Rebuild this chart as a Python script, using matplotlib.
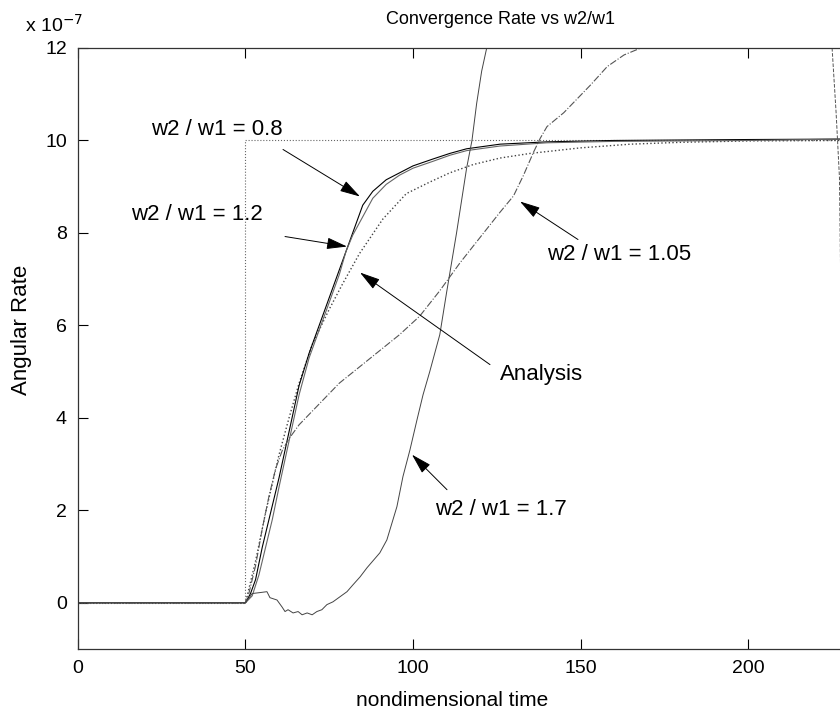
import numpy as np
import matplotlib
matplotlib.use("Agg")
import matplotlib.pyplot as plt

plt.rcParams['font.family'] = ['Liberation Sans', 'DejaVu Sans']

# ---- data (values in units of 1e-7) ----
t_step = [0, 50, 50, 250]
y_step = [0, 0, 10, 10]

t_analysis = [0, 50, 53, 56, 60, 63, 66, 70, 75, 79, 84, 91, 98, 105, 111, 118, 126, 135, 150, 165, 180, 200, 228]
y_analysis = [0, 0, 0.9, 1.95, 3.2, 4.0, 4.75, 5.6, 6.35, 6.9, 7.55, 8.3, 8.85, 9.1, 9.3, 9.48, 9.62, 9.72, 9.84, 9.92, 9.96, 9.99, 10.0]

t_08 = [0, 50, 51.5, 53, 55, 58, 60, 63, 66, 69, 72, 75, 78, 81, 83, 85, 88, 92, 96, 100, 106, 111, 116, 126, 140, 160, 200, 228]
y_08 = [0, 0, 0.2, 0.5, 1.2, 2.1, 2.7, 3.7, 4.7, 5.4, 6.0, 6.6, 7.2, 7.8, 8.2, 8.6, 8.9, 9.15, 9.3, 9.45, 9.6, 9.72, 9.82, 9.92, 9.97, 10.0, 10.02, 10.03]

t_12 = [0, 50, 52, 54, 56, 58, 60, 63, 66, 69, 72, 75, 78, 80, 82, 85, 88, 92, 96, 100, 106, 111, 116, 126, 140, 160, 200, 228]
y_12 = [0, 0, 0.15, 0.6, 1.2, 1.8, 2.5, 3.5, 4.5, 5.3, 5.9, 6.5, 7.1, 7.6, 7.95, 8.35, 8.75, 9.05, 9.25, 9.4, 9.55, 9.68, 9.78, 9.88, 9.95, 9.98, 10.0, 10.03]

t_105 = [0, 50, 51, 53, 55, 57, 59, 61, 63, 66, 70, 74, 78, 84, 90, 96, 102, 108, 114, 120, 126, 130, 133, 136, 138, 140, 145, 149, 153, 158, 163, 168, 175]
y_105 = [0, 0, 0.2, 0.8, 1.6, 2.3, 2.9, 3.3, 3.55, 3.85, 4.15, 4.45, 4.75, 5.1, 5.45, 5.8, 6.2, 6.75, 7.35, 7.9, 8.45, 8.8, 9.25, 9.75, 10.05, 10.3, 10.6, 10.9, 11.2, 11.6, 11.85, 12.0, 12.4]

t_17 = [0, 50, 52, 54.3, 56.4, 57.3, 59.4, 60.9, 61.8, 62.7, 64.2, 65.7, 66.9, 68.4, 69.9, 71.3, 72.8, 74.3,
        76.1, 78.2, 80.3, 82.1, 84.2, 86.3, 90.1, 92.2, 95.2, 97.0, 99.1, 101.2, 103, 105, 108, 110, 113, 116,
        117.6, 119, 120.5, 122, 123]
y_17 = [0, 0, 0.2, 0.22, 0.24, 0.11, 0.06, -0.09, -0.19, -0.15, -0.22, -0.19, -0.26, -0.22, -0.26, -0.19, -0.15, -0.04,
        0.02, 0.13, 0.24, 0.39, 0.56, 0.76, 1.08, 1.36, 2.08, 2.73, 3.31, 3.96, 4.5, 5.0, 5.8, 6.7, 8.0, 9.4,
        10.0, 10.8, 11.5, 12.0, 12.4]
# return of the w2/w1 = 1.7 response at the right edge
t_17b = [224, 225.1, 226.3, 227.3, 227.8, 228.3, 229]
y_17b = [13, 12, 10.6, 9.2, 6.2, 2.1, -0.5]

x_ticks = [0, 50, 100, 150, 200]
y_ticks = [0, 2, 4, 6, 8, 10, 12]

W, H = 840, 710
fig = plt.figure(figsize=(W / 100, H / 100), dpi=100)
ax_left, ax_bottom, ax_top = 78, 649, 48
ax_w = 250 * 3.35
ax = fig.add_axes([ax_left / W, 1 - ax_bottom / H, ax_w / W, (ax_bottom - ax_top) / H])
ax.set_xlim(0, 250)
ax.set_ylim(-1, 12)

lw = 0.8
ax.plot(t_step, y_step, ':', color='#666666', lw=lw)
ax.plot(t_analysis, y_analysis, ':', color='#444444', lw=1.0)
ax.plot(t_08, y_08, '-', color='black', lw=lw)
ax.plot(t_12, y_12, '-', color='#666666', lw=lw)
ax.plot(t_105, y_105, '-.', color='#555555', lw=lw)
ax.plot(t_17, y_17, '-', color='#444444', lw=0.7)
ax.plot(t_17b, y_17b, '--', color='#555555', lw=0.7)

ax.set_xticks(x_ticks)
ax.set_yticks(y_ticks)
ax.tick_params(direction='in', top=True, right=True, length=7, width=0.8, labelsize=14, pad=8)
for s in ax.spines.values():
    s.set_linewidth(0.9)
    s.set_color('#333333')

def px2d(px, py):
    return ((px - 78) / 3.35, (603 - py) / 46.2)

arrow_kw = dict(arrowstyle='-|>,head_length=0.7,head_width=0.2', color='black', lw=0.7,
                shrinkA=0, shrinkB=0, mutation_scale=18)

# annotations: (text, text anchor px, tail px, tip px, ha)
labels = [
    ("w2 / w1 = 0.8", (217, 130), (283, 150), (360, 197), 'center'),
    ("w2 / w1 = 1.2", (197, 215), (285, 237), (347, 247), 'center'),
    ("w2 / w1 = 1.05", (619, 255), (578, 240), (520, 202), 'center'),
    ("Analysis", (500, 375), (490, 365), (360, 273), 'left'),
    ("w2 / w1 = 1.7", (501, 510), (447, 490), (412, 455), 'center'),
]
for txt, tc, tail, tip, ha in labels:
    ax.annotate('', xy=px2d(*tip), xytext=px2d(*tail), arrowprops=arrow_kw)
    ax.text(*px2d(*tc), txt, ha=ha, va='center', fontsize=16)

fig.text(501 / W, 1 - 20 / H, "Convergence Rate vs w2/w1", ha='center', va='center', fontsize=13)
fig.text(452 / W, 1 - 700 / H, "nondimensional time", ha='center', va='center', fontsize=15)
fig.text(22 / W, 1 - 330 / H, "Angular Rate", ha='center', va='center', rotation=90, fontsize=16)
fig.text(25 / W, 1 - 32 / H, r"x 10$^{-7}$", ha='left', va='baseline', fontsize=14)

fig.savefig("out.png", dpi=100)
